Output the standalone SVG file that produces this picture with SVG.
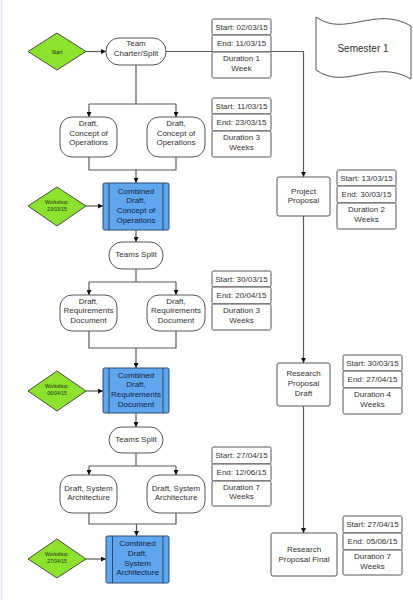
<svg xmlns="http://www.w3.org/2000/svg" width="413" height="600" viewBox="0 0 413 600">
<defs>
<style>
.bg{fill:#ffffff}
.edge{stroke:#dfe6ef;stroke-width:1.5}
.node{fill:#ffffff;stroke:#555555;stroke-width:1}
.dia{fill:#8de22e;stroke:#4a4a4a;stroke-width:1;stroke-linejoin:round}
.blue{fill:#5fa6ee;stroke:#2b4a6e;stroke-width:1}
.inner{stroke:#2b4a6e;stroke-width:1}
.tl{fill:#ffffff;stroke:#555555;stroke-width:1}
.conn{fill:none;stroke:#5a5a5a;stroke-width:1.2}
text{font-family:"Liberation Sans",Arial,sans-serif;text-anchor:middle}
.t{font-size:8px;fill:#333333}
.tb{font-size:8px;fill:#14233f}
.ts{font-size:5px;fill:#1e2e10}
.tbig{font-size:10px;fill:#333333}
</style>
<marker id="arr" viewBox="0 0 10 10" refX="10" refY="5" markerWidth="5" markerHeight="5" orient="auto" markerUnits="userSpaceOnUse">
<path d="M0,0 L10,5 L0,10 Z" fill="#111111"/>
</marker>
</defs>
<rect class="bg" x="0" y="0" width="413" height="600"/>
<line class="edge" x1="1.5" y1="0" x2="1.5" y2="600"/>

<g id="connectors">
<path class="conn" d="M86,51.5 H106" marker-end="url(#arr)"/>
<path class="conn" d="M166,51.5 H303.5 V177" marker-end="url(#arr)"/>
<path class="conn" d="M136,65 V104 M89,104 H176"/>
<path class="conn" d="M89,104 V117" marker-end="url(#arr)"/>
<path class="conn" d="M176,104 V117" marker-end="url(#arr)"/>
<path class="conn" d="M89,157 V170 H176 V157"/>
<path class="conn" d="M136,170 V183" marker-end="url(#arr)"/>
<path class="conn" d="M86,206 H103" marker-end="url(#arr)"/>
<path class="conn" d="M136,230 V242" marker-end="url(#arr)"/>
<path class="conn" d="M136,269 V282 M89,282 H176"/>
<path class="conn" d="M89,282 V295" marker-end="url(#arr)"/>
<path class="conn" d="M176,282 V295" marker-end="url(#arr)"/>
<path class="conn" d="M89,331 V348 H176 V331"/>
<path class="conn" d="M136,348 V368" marker-end="url(#arr)"/>
<path class="conn" d="M86,391 H103" marker-end="url(#arr)"/>
<path class="conn" d="M136,413 V427" marker-end="url(#arr)"/>
<path class="conn" d="M136,453 V466 M89,466 H176"/>
<path class="conn" d="M89,466 V475" marker-end="url(#arr)"/>
<path class="conn" d="M176,466 V475" marker-end="url(#arr)"/>
<path class="conn" d="M89,513 V524 H176 V513"/>
<path class="conn" d="M136.5,524 V536" marker-end="url(#arr)"/>
<path class="conn" d="M86,559 H106" marker-end="url(#arr)"/>
<path class="conn" d="M303.5,216 V363" marker-end="url(#arr)"/>
<path class="conn" d="M303.5,406 V533" marker-end="url(#arr)"/>
</g>

<g id="start">
<polygon class="dia" points="28,51.5 57,33 86,51.5 57,70"/>
<text class="ts" x="57" y="53.5">Start</text>
</g>
<g id="team-charter">
<rect class="node" x="106" y="38" width="60" height="27" rx="13"/>
<text class="t" x="136" y="46">Team</text>
<text class="t" x="136" y="56">Charter/Split</text>
</g>
<g id="draft-conops-1">
<rect class="node" x="60" y="117" width="57" height="40" rx="12"/>
<text class="t" x="88.5" y="126">Draft,</text>
<text class="t" x="88.5" y="135.5">Concept of</text>
<text class="t" x="88.5" y="145">Operations</text>
</g>
<g id="draft-conops-2">
<rect class="node" x="147" y="117" width="58" height="40" rx="12"/>
<text class="t" x="176" y="126">Draft,</text>
<text class="t" x="176" y="135.5">Concept of</text>
<text class="t" x="176" y="145">Operations</text>
</g>
<g id="workshop-1">
<polygon class="dia" points="28,206 57,187 86,206 57,226"/>
<text class="ts" x="57" y="204">Workshop:</text>
<text class="ts" x="57" y="211">23/03/15</text>
</g>
<g id="combined-conops">
<rect class="blue" x="103" y="183" width="66" height="47" rx="1.5"/>
<line class="inner" x1="109" y1="183" x2="109" y2="230"/>
<line class="inner" x1="163" y1="183" x2="163" y2="230"/>
<text class="tb" x="136" y="193.5">Combined</text>
<text class="tb" x="136" y="203.3">Draft,</text>
<text class="tb" x="136" y="213">Concept of</text>
<text class="tb" x="136" y="222.8">Operations</text>
</g>
<g id="teams-split-1">
<rect class="node" x="109" y="242" width="54" height="27" rx="13"/>
<text class="t" x="136" y="257">Teams Split</text>
</g>
<g id="draft-req-1">
<rect class="node" x="60" y="295" width="57" height="36" rx="12"/>
<text class="t" x="88.5" y="303.5">Draft,</text>
<text class="t" x="88.5" y="313">Requirements</text>
<text class="t" x="88.5" y="323">Document</text>
</g>
<g id="draft-req-2">
<rect class="node" x="147" y="295" width="58" height="36" rx="12"/>
<text class="t" x="176" y="303.5">Draft,</text>
<text class="t" x="176" y="313">Requirements</text>
<text class="t" x="176" y="323">Document</text>
</g>
<g id="workshop-2">
<polygon class="dia" points="28,391 57,371 86,391 57,411"/>
<text class="ts" x="57" y="388">Workshop:</text>
<text class="ts" x="57" y="395">06/04/15</text>
</g>
<g id="combined-req">
<rect class="blue" x="103" y="368" width="66" height="45" rx="1.5"/>
<line class="inner" x1="109" y1="368" x2="109" y2="413"/>
<line class="inner" x1="163" y1="368" x2="163" y2="413"/>
<text class="tb" x="136" y="378">Combined</text>
<text class="tb" x="136" y="387.3">Draft,</text>
<text class="tb" x="136" y="397">Requirements</text>
<text class="tb" x="136" y="406.5">Document</text>
</g>
<g id="teams-split-2">
<rect class="node" x="109" y="427" width="54" height="26" rx="13"/>
<text class="t" x="136" y="442">Teams Split</text>
</g>
<g id="draft-sa-1">
<rect class="node" x="60" y="475" width="57" height="38" rx="12"/>
<text class="t" x="88.5" y="491">Draft, System</text>
<text class="t" x="88.5" y="500">Architecture</text>
</g>
<g id="draft-sa-2">
<rect class="node" x="147" y="475" width="58" height="38" rx="12"/>
<text class="t" x="176" y="491">Draft, System</text>
<text class="t" x="176" y="500">Architecture</text>
</g>
<g id="workshop-3">
<polygon class="dia" points="28,559 57,539 86,559 57,578"/>
<text class="ts" x="57" y="555.5">Workshop:</text>
<text class="ts" x="57" y="563">27/04/15</text>
</g>
<g id="combined-sa">
<rect class="blue" x="106" y="536" width="63" height="47" rx="1.5"/>
<line class="inner" x1="112.5" y1="536" x2="112.5" y2="583"/>
<line class="inner" x1="163" y1="536" x2="163" y2="583"/>
<text class="tb" x="137.5" y="546">Combined</text>
<text class="tb" x="137.5" y="556">Draft,</text>
<text class="tb" x="137.5" y="565.5">System</text>
<text class="tb" x="137.5" y="575">Architecture</text>
</g>
<g id="project-proposal">
<rect class="node" x="277" y="177" width="53" height="39" rx="2"/>
<text class="t" x="303.5" y="193.5">Project</text>
<text class="t" x="303.5" y="203">Proposal</text>
</g>
<g id="research-proposal-draft">
<rect class="node" x="277" y="363" width="53" height="43" rx="2"/>
<text class="t" x="303.5" y="376">Research</text>
<text class="t" x="303.5" y="386">Proposal</text>
<text class="t" x="303.5" y="395.5">Draft</text>
</g>
<g id="research-proposal-final">
<rect class="node" x="271" y="533" width="66" height="43" rx="2"/>
<text class="t" x="304" y="552">Research</text>
<text class="t" x="304" y="561.5">Proposal Final</text>
</g>

<g id="semester">
<path class="node" d="M316,17 C345,38 375,5 411,26 L411,79 C375,58 345,91 316,70 Z"/>
<text class="tbig" x="363" y="51.5">Semester 1</text>
</g>

<g id="timeline-1">
<rect class="tl" x="212" y="19" width="59" height="16" rx="1.5"/>
<rect class="tl" x="212" y="35" width="59" height="17" rx="1.5"/>
<rect class="tl" x="212" y="52" width="59" height="26" rx="1.5"/>
<text class="t" x="241.5" y="29.5">Start: 02/03/15</text>
<text class="t" x="241.5" y="45.5">End: 11/03/15</text>
<text class="t" x="241.5" y="61">Duration 1</text>
<text class="t" x="241.5" y="70.5">Week</text>
</g>
<g id="timeline-2">
<rect class="tl" x="212" y="98" width="59" height="16" rx="1.5"/>
<rect class="tl" x="212" y="114" width="59" height="17" rx="1.5"/>
<rect class="tl" x="212" y="131" width="59" height="26" rx="1.5"/>
<text class="t" x="241.5" y="108.5">Start: 11/03/15</text>
<text class="t" x="241.5" y="124.5">End: 23/03/15</text>
<text class="t" x="241.5" y="140">Duration 3</text>
<text class="t" x="241.5" y="149.5">Weeks</text>
</g>
<g id="timeline-3">
<rect class="tl" x="212" y="271" width="59" height="16" rx="1.5"/>
<rect class="tl" x="212" y="287" width="59" height="17" rx="1.5"/>
<rect class="tl" x="212" y="304" width="59" height="26" rx="1.5"/>
<text class="t" x="241.5" y="281.5">Start: 30/03/15</text>
<text class="t" x="241.5" y="297.5">End: 20/04/15</text>
<text class="t" x="241.5" y="313">Duration 3</text>
<text class="t" x="241.5" y="322.5">Weeks</text>
</g>
<g id="timeline-4">
<rect class="tl" x="212" y="447" width="59" height="17" rx="1.5"/>
<rect class="tl" x="212" y="464" width="59" height="17" rx="1.5"/>
<rect class="tl" x="212" y="481" width="59" height="25" rx="1.5"/>
<text class="t" x="241.5" y="458">Start: 27/04/15</text>
<text class="t" x="241.5" y="474.5">End: 12/06/15</text>
<text class="t" x="241.5" y="489.5">Duration 7</text>
<text class="t" x="241.5" y="499">Weeks</text>
</g>
<g id="timeline-pp">
<rect class="tl" x="337" y="170" width="59" height="16" rx="1.5"/>
<rect class="tl" x="337" y="186" width="59" height="17" rx="1.5"/>
<rect class="tl" x="337" y="203" width="59" height="26" rx="1.5"/>
<text class="t" x="366.5" y="180.5">Start: 13/03/15</text>
<text class="t" x="366.5" y="196.5">End: 30/03/15</text>
<text class="t" x="366.5" y="212">Duration 2</text>
<text class="t" x="366.5" y="221.5">Weeks</text>
</g>
<g id="timeline-rpd">
<rect class="tl" x="343" y="355" width="59" height="16" rx="1.5"/>
<rect class="tl" x="343" y="371" width="59" height="17" rx="1.5"/>
<rect class="tl" x="343" y="388" width="59" height="26" rx="1.5"/>
<text class="t" x="372.5" y="365.5">Start: 30/03/15</text>
<text class="t" x="372.5" y="381.5">End: 27/04/15</text>
<text class="t" x="372.5" y="397">Duration 4</text>
<text class="t" x="372.5" y="406.5">Weeks</text>
</g>
<g id="timeline-rpf">
<rect class="tl" x="343" y="516" width="59" height="17" rx="1.5"/>
<rect class="tl" x="343" y="533" width="59" height="17" rx="1.5"/>
<rect class="tl" x="343" y="550" width="59" height="25" rx="1.5"/>
<text class="t" x="372.5" y="526.5">Start: 27/04/15</text>
<text class="t" x="372.5" y="543.5">End: 05/06/15</text>
<text class="t" x="372.5" y="559">Duration 7</text>
<text class="t" x="372.5" y="568.5">Weeks</text>
</g>
</svg>
